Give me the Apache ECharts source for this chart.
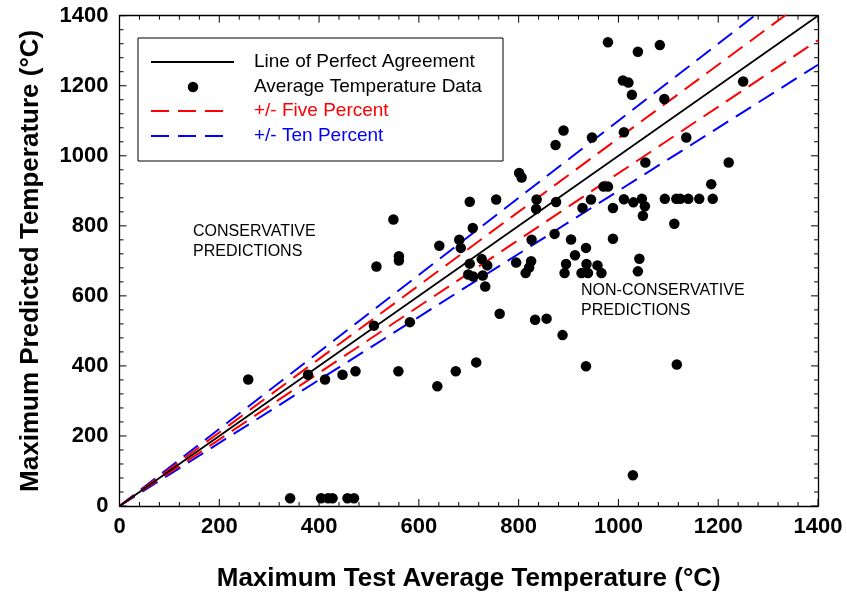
<!DOCTYPE html>
<html>
<head>
<meta charset="utf-8">
<script src="https://cdn.jsdelivr.net/npm/echarts@6/dist/echarts.min.js"></script>
<style>
  html, body { margin: 0; padding: 0; background: #ffffff; }
  #chart { width: 847px; height: 597px; }
</style>
</head>
<body>
<div id="chart"></div>
<script>
// Measured test temperatures (°C) and the matching model predictions (°C)
const testTemps = [
  258, 342, 378, 404, 412, 418, 427, 447, 457, 470,
  473, 510, 515, 549, 559, 560, 560, 582, 637, 641,
  674, 681, 684, 702, 702, 699, 708, 709, 715, 726,
  728, 733, 737, 755, 762, 795, 801, 806, 814, 821,
  825, 826, 833, 835, 836, 856, 872, 874, 875, 888,
  890, 892, 895, 905, 913, 928, 926, 935, 936, 939,
  935, 945, 947, 958, 966, 970, 979, 979, 989, 989,
  1009, 1011, 1011, 1020, 1027, 1029, 1030, 1039, 1039, 1042,
  1047, 1049, 1053, 1054, 1083, 1092, 1093, 1112, 1116, 1117,
  1124, 1136, 1140, 1162, 1186, 1189, 1221, 1250
];
const predictedTemps = [
  361, 22, 375, 22, 361, 22, 22, 375, 22, 22,
  385, 515, 684, 818, 385, 713, 701, 525, 342, 743,
  385, 760, 737, 869, 692, 661, 794, 655, 410, 705,
  658, 627, 687, 875, 549, 695, 951, 938, 665, 681,
  699, 760, 532, 848, 875, 535, 777, 1031, 868, 488,
  1072, 665, 691, 761, 716, 851, 665, 737, 691, 665,
  399, 875, 1052, 687, 665, 912, 912, 1324, 851, 763,
  1215, 1067, 876, 1209, 1174, 88, 867, 1297, 670, 706,
  877, 829, 856, 981, 1316, 1162, 877, 806, 877, 404,
  877, 1052, 877, 877, 919, 877, 981, 1212
];

// Reference lines: predicted = factor × measured
const perfectFactor = [1.0];
const fivePercentFactors = [1.05, 0.95];
const tenPercentFactors = [1.10, 0.90];

// Axis range, labelled ticks and minor tick spacing
const axisMin = 0;
const axisMax = 1400;
const tickStep = 200;
const minorStep = 40;

// Legend and annotation texts
const legendLabels = ['Line of Perfect Agreement', 'Average Temperature Data', '+/- Five Percent', '+/- Ten Percent'];
const regionLabels = ['CONSERVATIVE\nPREDICTIONS', 'NON-CONSERVATIVE\nPREDICTIONS'];
const xTitle = 'Maximum Test Average Temperature (°C)';
const yTitle = 'Maximum Predicted Temperature (°C)';

const FONT = '"Liberation Sans", Arial, Helvetica, sans-serif';
const RED = '#ff0000';
const BLUE = '#0000ff';
const DASH = [18, 9];

const points = testTemps.map((x, i) => [x, predictedTemps[i]]);

// Tick positions along both axes: [value, isMajor]
const tickMarks = [];
for (let v = axisMin; v <= axisMax; v += minorStep) {
  tickMarks.push([v, v % tickStep === 0 ? 1 : 0]);
}

function refLine(factor, color, dashed) {
  return {
    type: 'line',
    data: [[axisMin, axisMin * factor], [axisMax, axisMax * factor]],
    symbol: 'none',
    clip: true,
    silent: true,
    z: 2,
    lineStyle: { color: color, width: dashed ? 2 : 1.8, type: dashed ? DASH : 'solid', opacity: 1 }
  };
}

function frameAxis(extra) {
  return Object.assign({
    type: 'value', min: axisMin, max: axisMax, interval: tickStep,
    axisLine: { show: true, onZero: false, lineStyle: { color: '#000', width: 1.3 } },
    axisTick: { show: false },
    minorTick: { show: false },
    splitLine: { show: false },
    minorSplitLine: { show: false }
  }, extra);
}

const labelStyle = {
  color: '#000', fontFamily: FONT, fontWeight: 'bold', fontSize: 22,
  formatter: v => String(v)
};
const titleStyle = { color: '#000', fontFamily: FONT, fontWeight: 'bold', fontSize: 26 };

// Inward ticks on all four sides of the frame, placed through the axis scales
function renderTicks(params, api) {
  const v = api.value(0);
  const len = api.value(1) ? 7 : 4;
  const b = api.coord([v, axisMin]);
  const t = api.coord([v, axisMax]);
  const l = api.coord([axisMin, v]);
  const r = api.coord([axisMax, v]);
  const st = { stroke: '#000', lineWidth: 1 };
  return {
    type: 'group',
    children: [
      { type: 'line', shape: { x1: b[0], y1: b[1], x2: b[0], y2: b[1] - len }, style: st },
      { type: 'line', shape: { x1: t[0], y1: t[1], x2: t[0], y2: t[1] + len }, style: st },
      { type: 'line', shape: { x1: l[0], y1: l[1], x2: l[0] + len, y2: l[1] }, style: st },
      { type: 'line', shape: { x1: r[0], y1: r[1], x2: r[0] - len, y2: r[1] }, style: st }
    ]
  };
}

const chart = echarts.init(document.getElementById('chart'), null, { renderer: 'canvas' });

const option = {
  animation: false,
  backgroundColor: '#ffffff',
  grid: { left: 119.5, right: 29, top: 15.7, bottom: 90.3, containLabel: false },
  xAxis: [
    frameAxis({
      position: 'bottom',
      name: xTitle, nameLocation: 'middle', nameGap: 60, nameTextStyle: titleStyle,
      axisLabel: Object.assign({ margin: 10 }, labelStyle)
    }),
    frameAxis({ position: 'top', axisLabel: { show: false } })
  ],
  yAxis: [
    frameAxis({
      position: 'left',
      name: yTitle, nameLocation: 'middle', nameGap: 76, nameRotate: 90, nameTextStyle: titleStyle,
      axisLabel: Object.assign({ margin: 11 }, labelStyle)
    }),
    frameAxis({ position: 'right', axisLabel: { show: false } })
  ],
  series: [
    refLine(tenPercentFactors[0], BLUE, true),
    refLine(tenPercentFactors[1], BLUE, true),
    refLine(fivePercentFactors[0], RED, true),
    refLine(fivePercentFactors[1], RED, true),
    refLine(perfectFactor[0], '#000', false),
    {
      type: 'scatter',
      data: points,
      symbol: 'circle',
      symbolSize: 10.5,
      itemStyle: { color: '#000', opacity: 1 },
      z: 5
    },
    {
      type: 'custom',
      data: tickMarks,
      renderItem: renderTicks,
      clip: false,
      silent: true,
      z: 6
    }
  ],
  graphic: [
    // legend frame
    { type: 'rect', shape: { x: 138, y: 38, width: 365, height: 123 },
      style: { fill: '#fff', stroke: '#000', lineWidth: 1 }, z: 10 },
    { type: 'line', shape: { x1: 151, y1: 62, x2: 234, y2: 62 },
      style: { stroke: '#000', lineWidth: 1.8 }, z: 11 },
    { type: 'circle', shape: { cx: 193, cy: 87, r: 5.25 },
      style: { fill: '#000' }, z: 11 },
    { type: 'line', shape: { x1: 151, y1: 111, x2: 226, y2: 111 },
      style: { stroke: RED, lineWidth: 2, lineDash: DASH }, z: 11 },
    { type: 'line', shape: { x1: 151, y1: 136, x2: 226, y2: 136 },
      style: { stroke: BLUE, lineWidth: 2, lineDash: DASH }, z: 11 },
    { type: 'text', x: 254, y: 62, z: 11,
      style: { text: legendLabels[0], fill: '#000', font: '19px ' + FONT, textVerticalAlign: 'middle' } },
    { type: 'text', x: 254, y: 87, z: 11,
      style: { text: legendLabels[1], fill: '#000', font: '19px ' + FONT, textVerticalAlign: 'middle' } },
    { type: 'text', x: 254, y: 111, z: 11,
      style: { text: legendLabels[2], fill: RED, font: '19px ' + FONT, textVerticalAlign: 'middle' } },
    { type: 'text', x: 254, y: 136, z: 11,
      style: { text: legendLabels[3], fill: BLUE, font: '19px ' + FONT, textVerticalAlign: 'middle' } },
    // region annotations
    { type: 'text', x: 193, y: 222, z: 11,
      style: { text: regionLabels[0], fill: '#000', font: '16px ' + FONT, lineHeight: 20 } },
    { type: 'text', x: 581, y: 281, z: 11,
      style: { text: regionLabels[1], fill: '#000', font: '16px ' + FONT, lineHeight: 20 } }
  ]
};

chart.setOption(option);
</script>
</body>
</html>
